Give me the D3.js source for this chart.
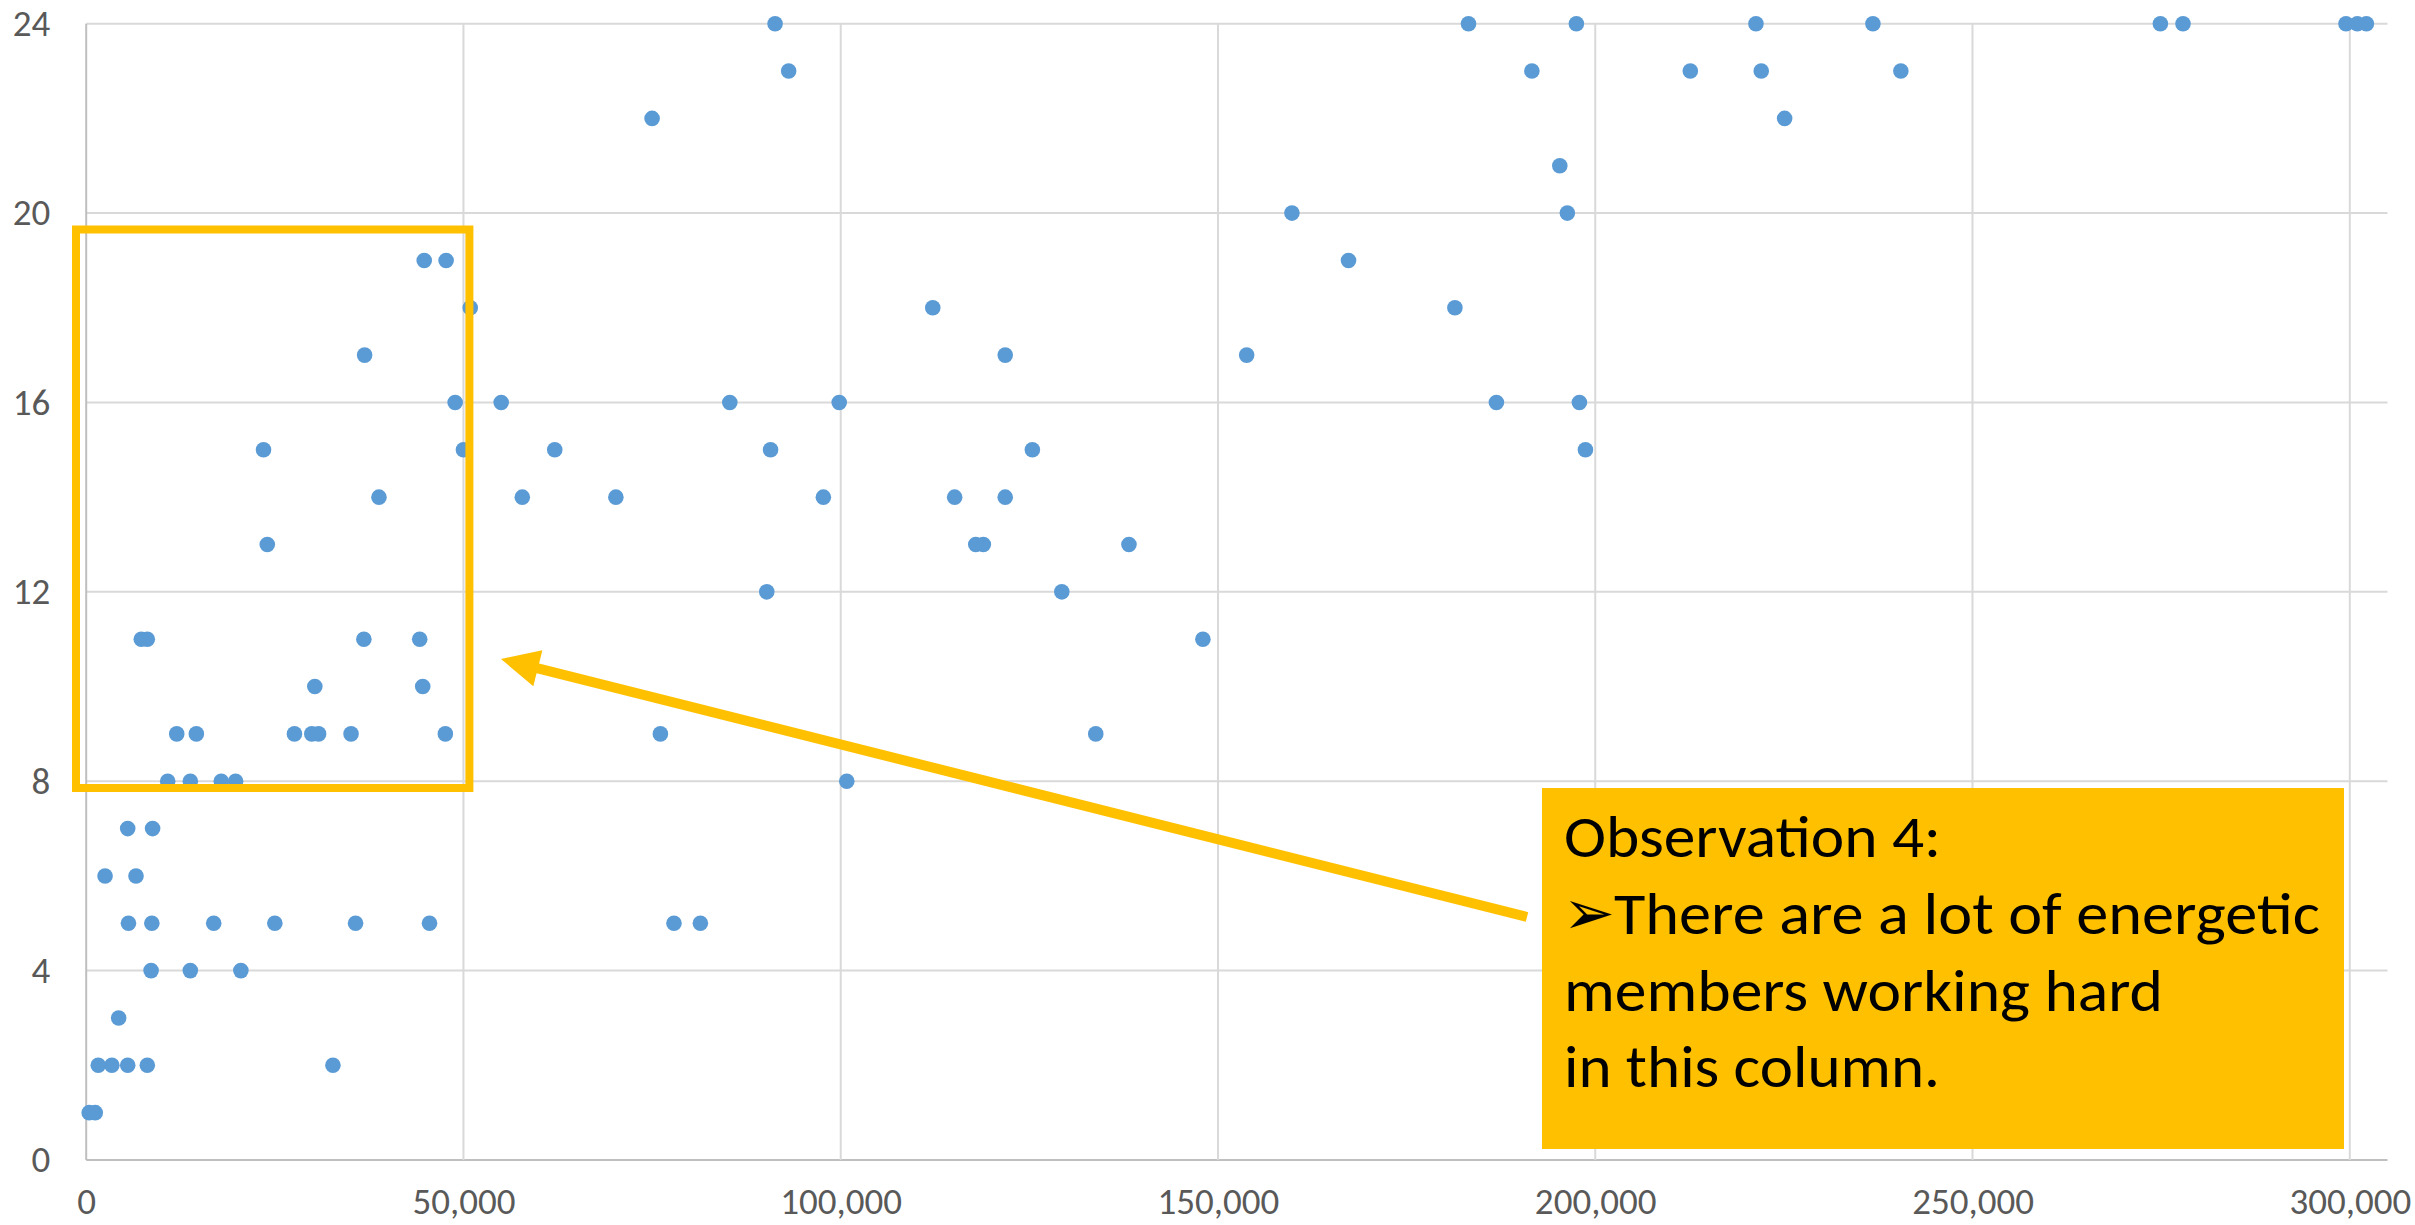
<!DOCTYPE html>
<html>
<head>
<meta charset="utf-8">
<script src="https://cdn.jsdelivr.net/npm/d3@7"></script>
<style>
  html, body { margin: 0; padding: 0; background: #ffffff; }
  svg { display: block; }
</style>
</head>
<body>
<svg id="chart" width="2415" height="1225"></svg>
<script>
// ---------------- DATA ----------------
const xTicks = [0, 50000, 100000, 150000, 200000, 250000, 300000];
const yTicks = [0, 4, 8, 12, 16, 20, 24];

const xValues = [
  91300, 183200, 197500, 221300, 236800, 274900, 277900, 299500, 301000, 302200,
  93100, 191600, 212600, 222000, 240500,
  75000, 225100,
  195300,
  159800, 196300,
  44800, 47700, 167300,
  50900, 112200, 181400,
  36900, 121800, 153800,
  48900, 55000, 85300, 99800, 186900, 197900,
  23500, 50000, 62100, 90700, 125400, 198700,
  38800, 57800, 70200, 97700, 115100, 121800,
  24000, 117900, 118900, 138200,
  90200, 129300,
  7300, 8100, 36800, 44200, 148000,
  30300, 44600,
  12000, 14600, 27600, 29900, 30800, 35100, 47600, 76100, 133800,
  10800, 13800, 17900, 19800, 100800,
  5500, 8800,
  2500, 6600,
  5600, 8700, 16900, 25000, 35700, 45500, 77900, 81400,
  8600, 13800, 20500,
  4300,
  1600, 3400, 5500, 8100, 32700,
  400, 1200
];
const yValues = [
  24, 24, 24, 24, 24, 24, 24, 24, 24, 24,
  23, 23, 23, 23, 23,
  22, 22,
  21,
  20, 20,
  19, 19, 19,
  18, 18, 18,
  17, 17, 17,
  16, 16, 16, 16, 16, 16,
  15, 15, 15, 15, 15, 15,
  14, 14, 14, 14, 14, 14,
  13, 13, 13, 13,
  12, 12,
  11, 11, 11, 11, 11,
  10, 10,
  9, 9, 9, 9, 9, 9, 9, 9, 9,
  8, 8, 8, 8, 8,
  7, 7,
  6, 6,
  5, 5, 5, 5, 5, 5, 5, 5,
  4, 4, 4,
  3,
  2, 2, 2, 2, 2,
  1, 1
];

const noteTitle = "Observation 4:";
const noteBullet = "\u27A2";
const noteLines = ["There are a lot of energetic", "members working hard", "in this column."];

// ---------------- LAYOUT ----------------
const svg = d3.select("#chart");
const plot = { left: 86.2, right: 2387.5, top: 23.7, bottom: 1160 };
const xMax = 305000;

const x = d3.scaleLinear().domain([0, xMax]).range([plot.left, plot.right]);
const y = d3.scaleLinear().domain([0, 24]).range([plot.bottom, plot.top]);

const gridColor = "#d9d9d9";
const axisColor = "#bfbfbf";
const labelColor = "#595959";
const labelFont = "'Carlito', 'Liberation Sans', Arial, sans-serif";
const accent = "#FFC000";
const dotColor = "#5B9BD5";

// gridlines
svg.append("g").selectAll("line.h").data(yTicks).join("line")
  .attr("x1", plot.left).attr("x2", plot.right)
  .attr("y1", d => y(d)).attr("y2", d => y(d))
  .attr("stroke", d => d === 0 ? axisColor : gridColor).attr("stroke-width", 2);
svg.append("g").selectAll("line.v").data(xTicks).join("line")
  .attr("x1", d => x(d)).attr("x2", d => x(d))
  .attr("y1", plot.top).attr("y2", plot.bottom)
  .attr("stroke", d => d === 0 ? axisColor : gridColor).attr("stroke-width", 2);

// axes (labels only)
const xAxis = svg.append("g")
  .attr("transform", `translate(0,${plot.bottom})`)
  .call(d3.axisBottom(x).tickValues(xTicks).tickFormat(d3.format(",")).tickSize(0).tickPadding(28));
const yAxis = svg.append("g")
  .attr("transform", `translate(${plot.left},0)`)
  .call(d3.axisLeft(y).tickValues(yTicks).tickFormat(d3.format("d")).tickSize(0).tickPadding(36));
[xAxis, yAxis].forEach(g => {
  g.select(".domain").remove();
  g.selectAll("text")
    .attr("fill", labelColor)
    .style("font-family", labelFont)
    .style("font-size", "37px");
});

// points
svg.append("g").selectAll("circle").data(xValues.map((v, i) => [v, yValues[i]])).join("circle")
  .attr("cx", d => x(d[0]))
  .attr("cy", d => y(d[1]))
  .attr("r", 7.8)
  .attr("fill", dotColor);

// ---------------- ANNOTATIONS ----------------
// highlight rectangle
svg.append("rect")
  .attr("x", 76).attr("y", 229.5)
  .attr("width", 469.4 - 76).attr("height", 788 - 229.5)
  .attr("fill", "none").attr("stroke", accent).attr("stroke-width", 8);

// arrow
const tip = [501, 659], tail = [1527, 917];
const ang = Math.atan2(tail[1] - tip[1], tail[0] - tip[0]);
const headLen = 38, headHalf = 18.5;
const base = [tip[0] + headLen * Math.cos(ang), tip[1] + headLen * Math.sin(ang)];
svg.append("line")
  .attr("x1", tail[0]).attr("y1", tail[1])
  .attr("x2", base[0] - 2 * Math.cos(ang)).attr("y2", base[1] - 2 * Math.sin(ang))
  .attr("stroke", accent).attr("stroke-width", 10);
svg.append("path")
  .attr("d", d3.line()([
    tip,
    [base[0] - headHalf * Math.sin(ang), base[1] + headHalf * Math.cos(ang)],
    [base[0] + headHalf * Math.sin(ang), base[1] - headHalf * Math.cos(ang)]
  ]) + "Z")
  .attr("fill", accent);

// text box
svg.append("rect")
  .attr("x", 1542).attr("y", 788)
  .attr("width", 2344 - 1542).attr("height", 1149 - 788)
  .attr("fill", accent);

const boxFont = "'Carlito', 'Liberation Sans', Arial, sans-serif";
const tg = svg.append("g").attr("fill", "#000").style("font-family", boxFont).style("font-size", "60px");
tg.append("text").attr("x", 1564).attr("y", 857)
  .attr("textLength", 377).attr("lengthAdjust", "spacingAndGlyphs").text(noteTitle);
tg.append("text").attr("x", 1563).attr("y", 934)
  .style("font-family", "'DejaVu Sans', sans-serif").style("font-size", "62px")
  .text(noteBullet);
tg.append("text").attr("x", 1614).attr("y", 934)
  .attr("textLength", 706).attr("lengthAdjust", "spacingAndGlyphs").text(noteLines[0]);
tg.append("text").attr("x", 1564).attr("y", 1011)
  .attr("textLength", 599).attr("lengthAdjust", "spacingAndGlyphs").text(noteLines[1]);
tg.append("text").attr("x", 1564).attr("y", 1087)
  .attr("textLength", 376).attr("lengthAdjust", "spacingAndGlyphs").text(noteLines[2]);
</script>
</body>
</html>
